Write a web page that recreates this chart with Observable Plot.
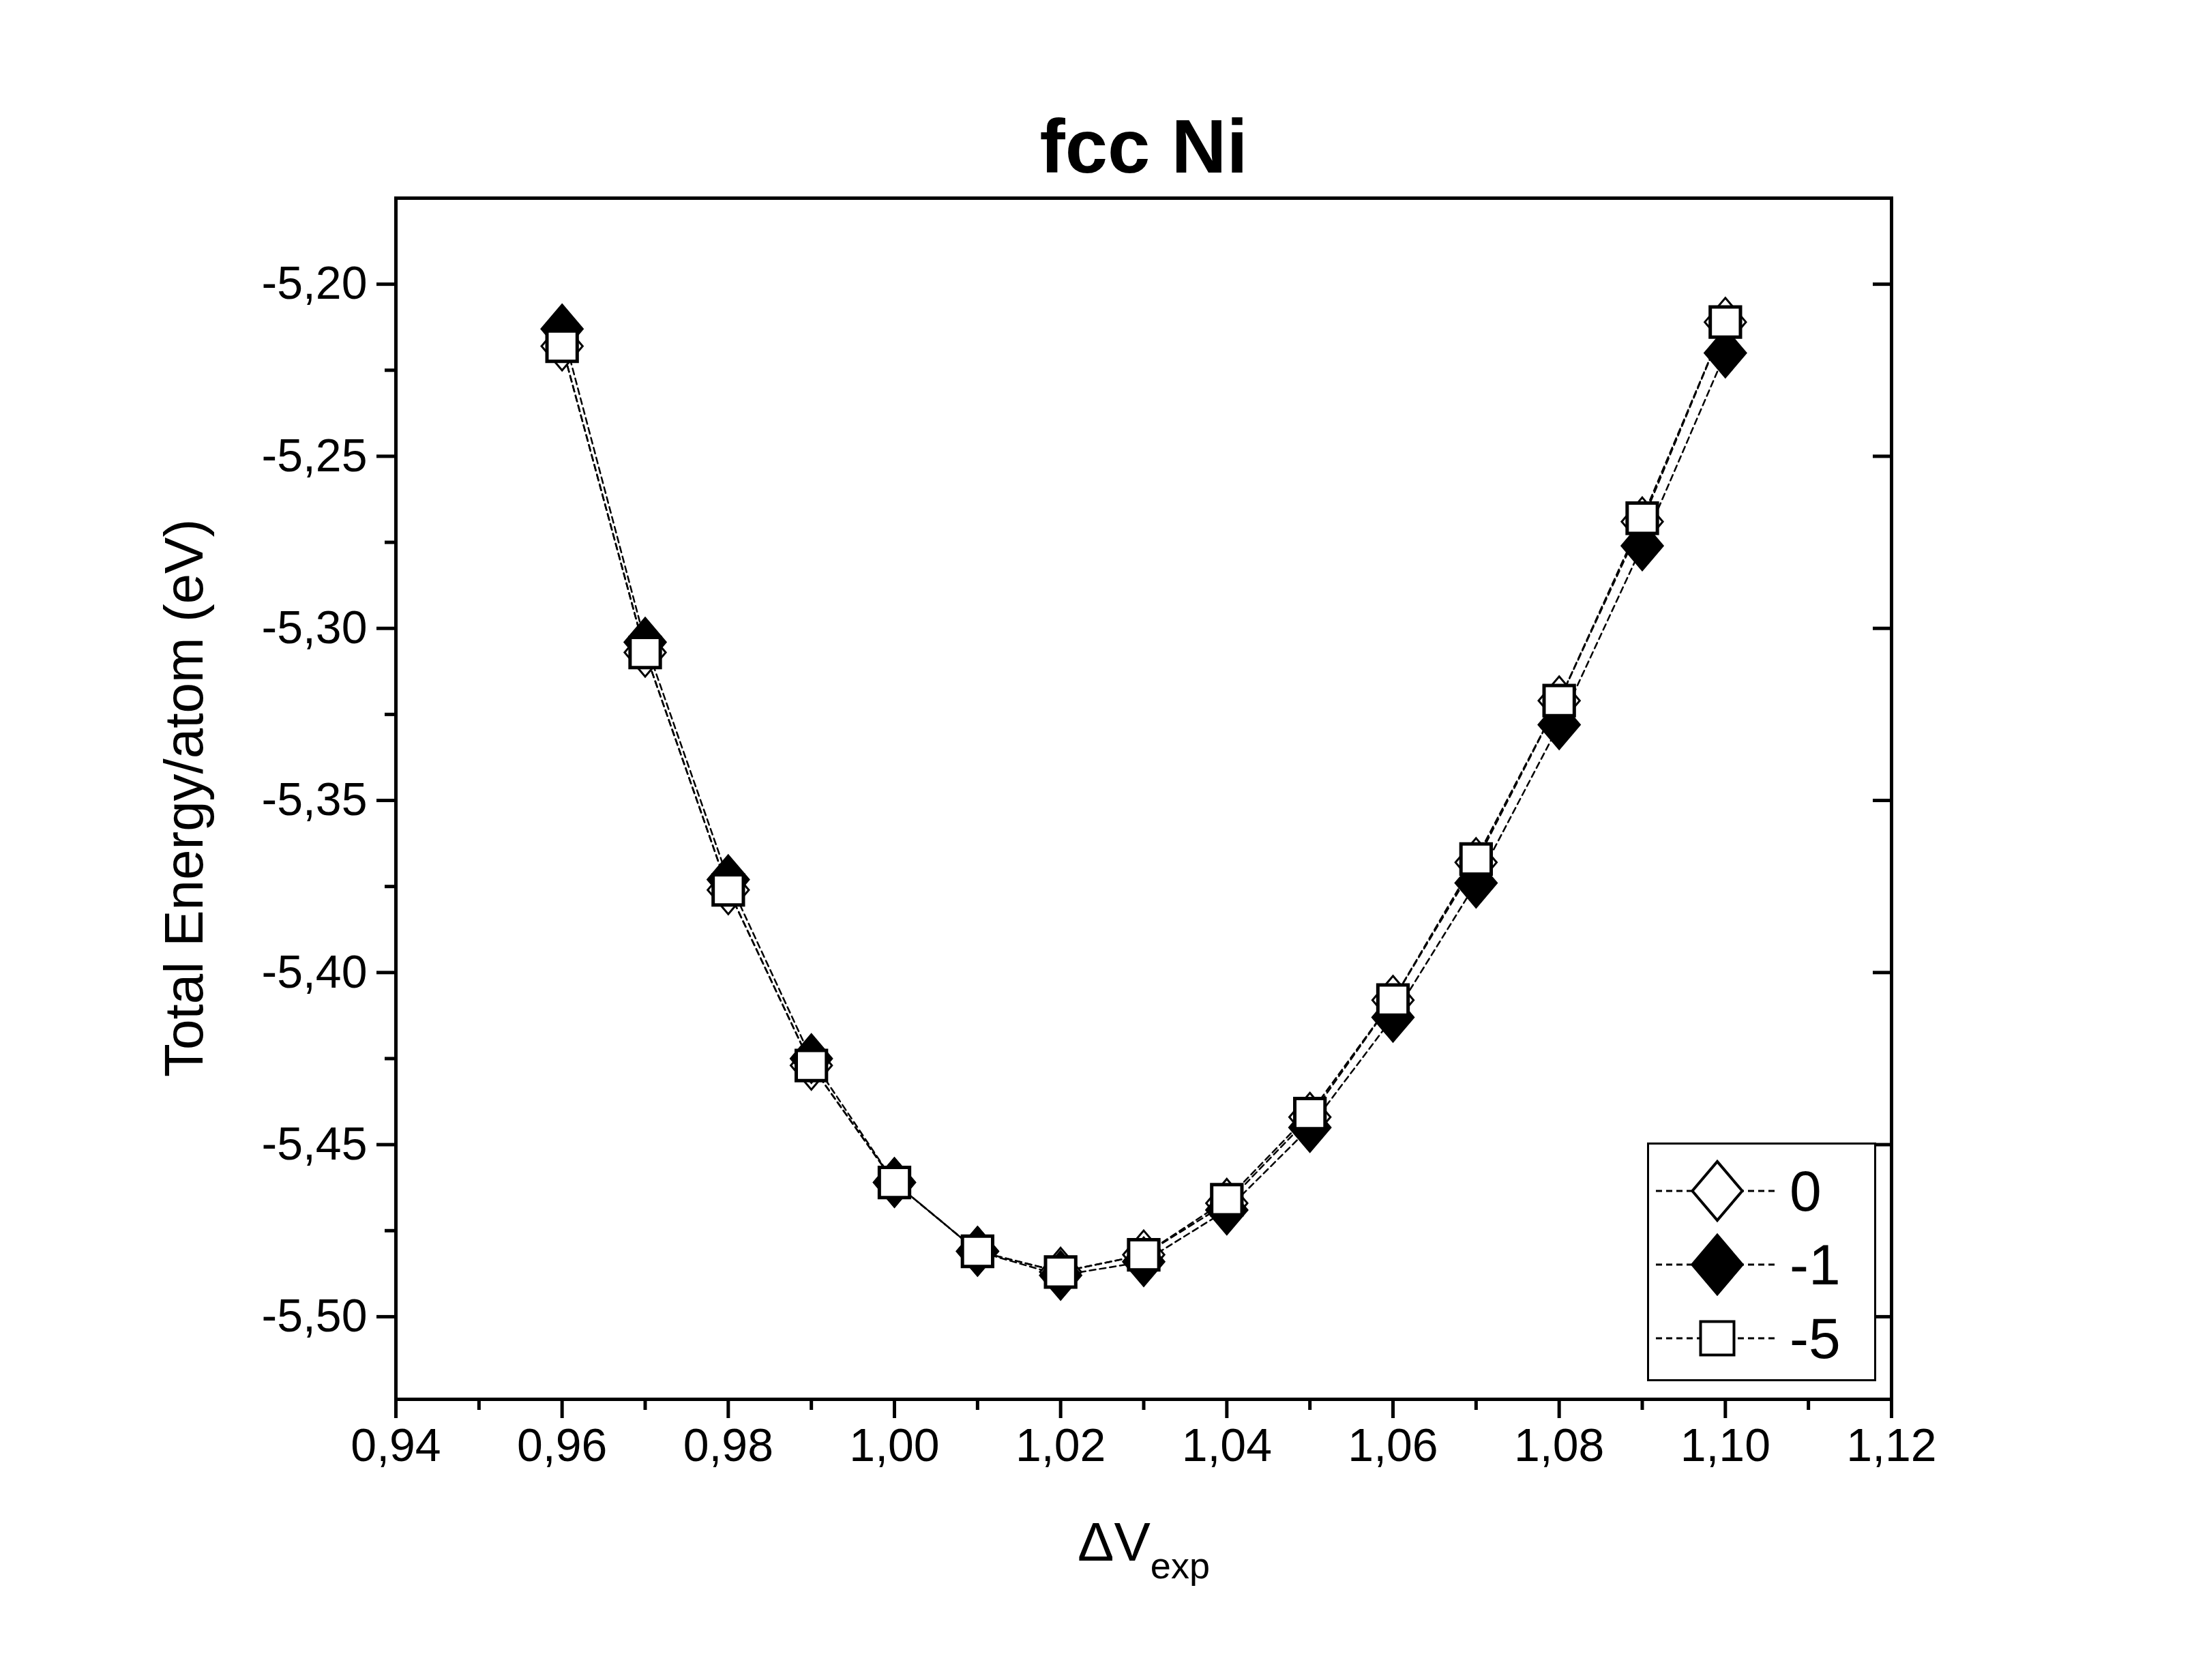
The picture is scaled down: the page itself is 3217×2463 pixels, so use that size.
<!DOCTYPE html>
<html><head><meta charset="utf-8">
<script src="https://cdn.jsdelivr.net/npm/d3@7"></script>
<script src="https://cdn.jsdelivr.net/npm/@observablehq/plot@0.6"></script>
<style>
body{margin:0;background:#fff;font-family:Arial,"Liberation Sans",sans-serif}
#wrap{position:relative;width:3217px;height:2463px}
.lbl{position:absolute;color:#000}
</style></head><body>
<div id="wrap"></div>
<script>
const dv = [0.96,0.97,0.98,0.99,1.00,1.01,1.02,1.03,1.04,1.05,1.06,1.07,1.08,1.09,1.10];
const e0 = [-5.218,-5.307,-5.376,-5.427,-5.461,-5.481,-5.487,-5.482,-5.467,-5.442,-5.408,-5.368,-5.321,-5.269,-5.211];
const e1 = [-5.213,-5.304,-5.373,-5.425,-5.461,-5.481,-5.488,-5.484,-5.469,-5.445,-5.413,-5.374,-5.328,-5.276,-5.220];
const e5 = [-5.218,-5.307,-5.376,-5.427,-5.461,-5.481,-5.487,-5.482,-5.466,-5.441,-5.408,-5.367,-5.321,-5.268,-5.211];
const xTicks = [0.94,0.96,0.98,1.00,1.02,1.04,1.06,1.08,1.10,1.12];
const xMinor = [0.95,0.97,0.99,1.01,1.03,1.05,1.07,1.09,1.11];
const yTicks = [-5.20,-5.25,-5.30,-5.35,-5.40,-5.45,-5.50];
const yMinor = [-5.225,-5.275,-5.325,-5.375,-5.425,-5.475];

const fmt = d => d.toFixed(2).replace(".", ",");
const s0 = dv.map((x,i) => ({x, y: e0[i]}));
const s1 = dv.map((x,i) => ({x, y: e1[i]}));
const s5 = dv.map((x,i) => ({x, y: e5[i]}));
const line = d => Plot.line(d, {x:"x", y:"y", stroke:"#000", strokeWidth:2.5, strokeDasharray:"9,6"});

// wide diamond like Origin's marker (width ~0.85 of height)
const wideDiamond = {
  draw(ctx, size) {
    const h = Math.sqrt(size) * 0.8, w = h * 0.85;
    ctx.moveTo(0, -h); ctx.lineTo(w, 0); ctx.lineTo(0, h); ctx.lineTo(-w, 0); ctx.closePath();
  }
};

const chart = Plot.plot({
  width: 3217, height: 2463,
  marginLeft: 580, marginRight: 420 + 24, marginTop: 290, marginBottom: 394 + 18,
  style: {fontFamily: "Arial, 'Liberation Sans', sans-serif", fontSize: "68px", color: "#000"},
  x: {domain: [0.94, 1.12]},
  y: {domain: [-5.524, -5.175]},
  marks: [
    Plot.frame({stroke:"#000", strokeWidth:5}),
    Plot.axisX({ticks: xTicks, tickFormat: fmt, tickSize: 28, tickPadding: 14, strokeWidth: 5, label: null}),
    Plot.axisX({ticks: xMinor, tickFormat: () => "", tickSize: 16, strokeWidth: 5, label: null}),
    Plot.axisY({ticks: yTicks, tickFormat: fmt, tickSize: 28, tickPadding: 14, strokeWidth: 5, label: null}),
    Plot.axisY({ticks: yMinor, tickFormat: () => "", tickSize: 16, strokeWidth: 5, label: null}),
    Plot.axisY({anchor: "right", ticks: yTicks, tickFormat: () => "", tickSize: -28, strokeWidth: 5, label: null}),
    line(s0), line(s1), line(s5),
    Plot.dot(s0, {x:"x", y:"y", symbol: wideDiamond, r:25, fill:"#fff", stroke:"#000", strokeWidth:3}),
    Plot.dot(s1, {x:"x", y:"y", symbol: wideDiamond, r:25, fill:"#000", stroke:"#000", strokeWidth:3}),
    Plot.dot(s5, {x:"x", y:"y", symbol:"square", r:25, fill:"#fff", stroke:"#000", strokeWidth:5})
  ]
});
const wrap = document.getElementById("wrap");
wrap.append(chart);

wrap.insertAdjacentHTML("beforeend", `
<div class="lbl" style="left:580px;width:2194px;top:150px;text-align:center;font-size:112px;font-weight:bold">fcc Ni</div>
<div class="lbl" style="left:580px;width:2194px;top:2215px;text-align:center;font-size:80px">ΔV<sub style="font-size:54px;vertical-align:-26px">exp</sub></div>
<div class="lbl" style="left:270px;top:1170px;font-size:80px;transform:translate(-50%,-50%) rotate(-90deg);white-space:nowrap">Total Energy/atom (eV)</div>
`);

// legend
const series = [["0","#fff","diamond"],["-1","#000","diamond"],["-5","#fff","square"]];
const leg = document.createElement("div");
leg.style.cssText = "position:absolute;left:2415px;top:1675px;width:336px;height:350px;border:3px solid #000;background:#fff;box-sizing:border-box";
wrap.append(leg);
series.forEach(([lab, fill, sym], i) => {
  const row = document.createElement("div");
  row.style.cssText = `position:absolute;left:0;top:${18 + i*108}px;height:100px;display:flex;align-items:center`;
  const sw = d3.create("svg").attr("width", 200).attr("height", 100);
  sw.append("line").attr("x1", 10).attr("x2", 190).attr("y1", 50).attr("y2", 50)
    .attr("stroke", "#000").attr("stroke-width", 3).attr("stroke-dasharray", "9,6");
  sw.append("path").attr("transform", "translate(100,50)")
    .attr("d", d3.symbol(sym === "square" ? d3.symbolSquare : wideDiamond, sym === "square" ? 2400 : 2900)())
    .attr("fill", fill).attr("stroke", "#000").attr("stroke-width", 4);
  row.append(sw.node());
  const t = document.createElement("span");
  t.textContent = lab;
  t.style.cssText = "font-size:84px;margin-left:6px";
  row.append(t);
  leg.append(row);
});
</script>
</body></html>
